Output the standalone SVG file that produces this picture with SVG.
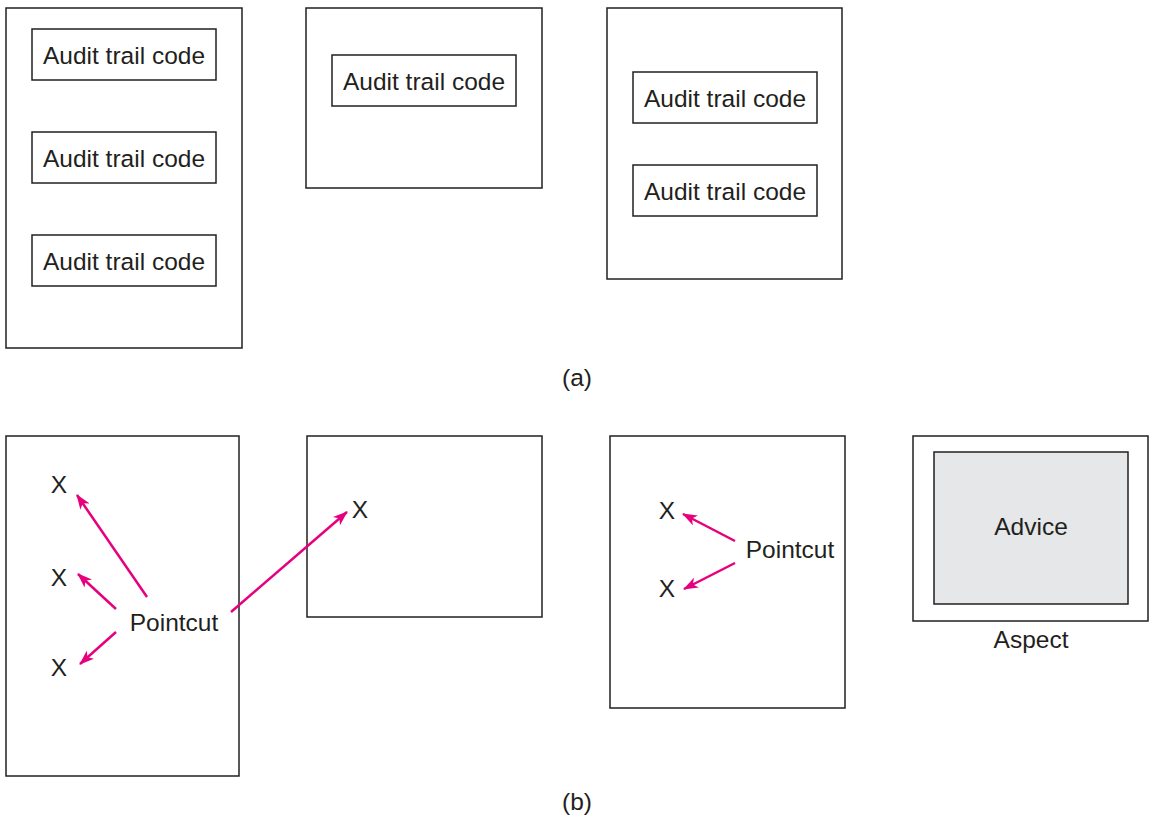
<svg xmlns="http://www.w3.org/2000/svg" width="1151" height="815" viewBox="0 0 1151 815">
<style>
.box{fill:#fff;stroke:#231f20;stroke-width:1.5}
.adv{fill:#e6e7e8;stroke:#231f20;stroke-width:1.5}
text{font-family:"Liberation Sans",Arial,sans-serif;font-size:24.5px;fill:#231f20;text-anchor:middle}
.arr{stroke:#e6007e;stroke-width:2.5;fill:none;marker-end:url(#ah)}
</style>
<defs>
<marker id="ah" viewBox="0 0 15 11" refX="14" refY="5.5" markerWidth="15" markerHeight="11" markerUnits="userSpaceOnUse" orient="auto">
<path d="M0,0 L15,5.5 L0,11 L4,5.5 z" fill="#e6007e"/>
</marker>
</defs>
<rect width="1151" height="815" fill="#fff"/>
<g id="a1">
<rect class="box" x="6" y="8" width="236" height="340"/>
<rect class="box" x="32" y="29" width="184" height="51"/>
<text x="124" y="64">Audit trail code</text>
<rect class="box" x="32" y="132" width="184" height="51"/>
<text x="124" y="167">Audit trail code</text>
<rect class="box" x="32" y="235" width="184" height="51"/>
<text x="124" y="270">Audit trail code</text>
</g>
<g id="a2">
<rect class="box" x="306" y="8" width="236" height="180"/>
<rect class="box" x="332" y="55" width="184" height="51"/>
<text x="424" y="90">Audit trail code</text>
</g>
<g id="a3">
<rect class="box" x="607" y="8" width="235" height="271"/>
<rect class="box" x="633" y="72" width="184" height="51"/>
<text x="725" y="107">Audit trail code</text>
<rect class="box" x="633" y="165" width="184" height="51"/>
<text x="725" y="200">Audit trail code</text>
</g>
<text id="label-a" x="577" y="386">(a)</text>
<g id="b1">
<rect class="box" x="6" y="436" width="233" height="340"/>
<text x="59" y="493">X</text>
<text x="59" y="586">X</text>
<text x="59" y="676">X</text>
<text x="174" y="631">Pointcut</text>
</g>
<g id="b2">
<rect class="box" x="307" y="436" width="235" height="181"/>
<text x="360" y="518">X</text>
</g>
<g id="b3">
<rect class="box" x="610" y="436" width="235" height="272"/>
<text x="667" y="519">X</text>
<text x="667" y="597">X</text>
<text x="790" y="558">Pointcut</text>
</g>
<g id="aspect">
<rect class="box" x="913" y="436" width="235" height="185"/>
<rect class="adv" x="934" y="452" width="194" height="152"/>
<text x="1031" y="535">Advice</text>
<text x="1031" y="648">Aspect</text>
</g>
<text id="label-b" x="577" y="810">(b)</text>
<g id="connectors">
<line class="arr" x1="147" y1="597" x2="77" y2="495"/>
<line class="arr" x1="116" y1="609" x2="78" y2="574"/>
<line class="arr" x1="116" y1="632" x2="80" y2="664"/>
<line class="arr" x1="231" y1="612" x2="347" y2="512"/>
<line class="arr" x1="735" y1="541" x2="683" y2="514"/>
<line class="arr" x1="735" y1="563" x2="684" y2="589"/>
</g>
</svg>
